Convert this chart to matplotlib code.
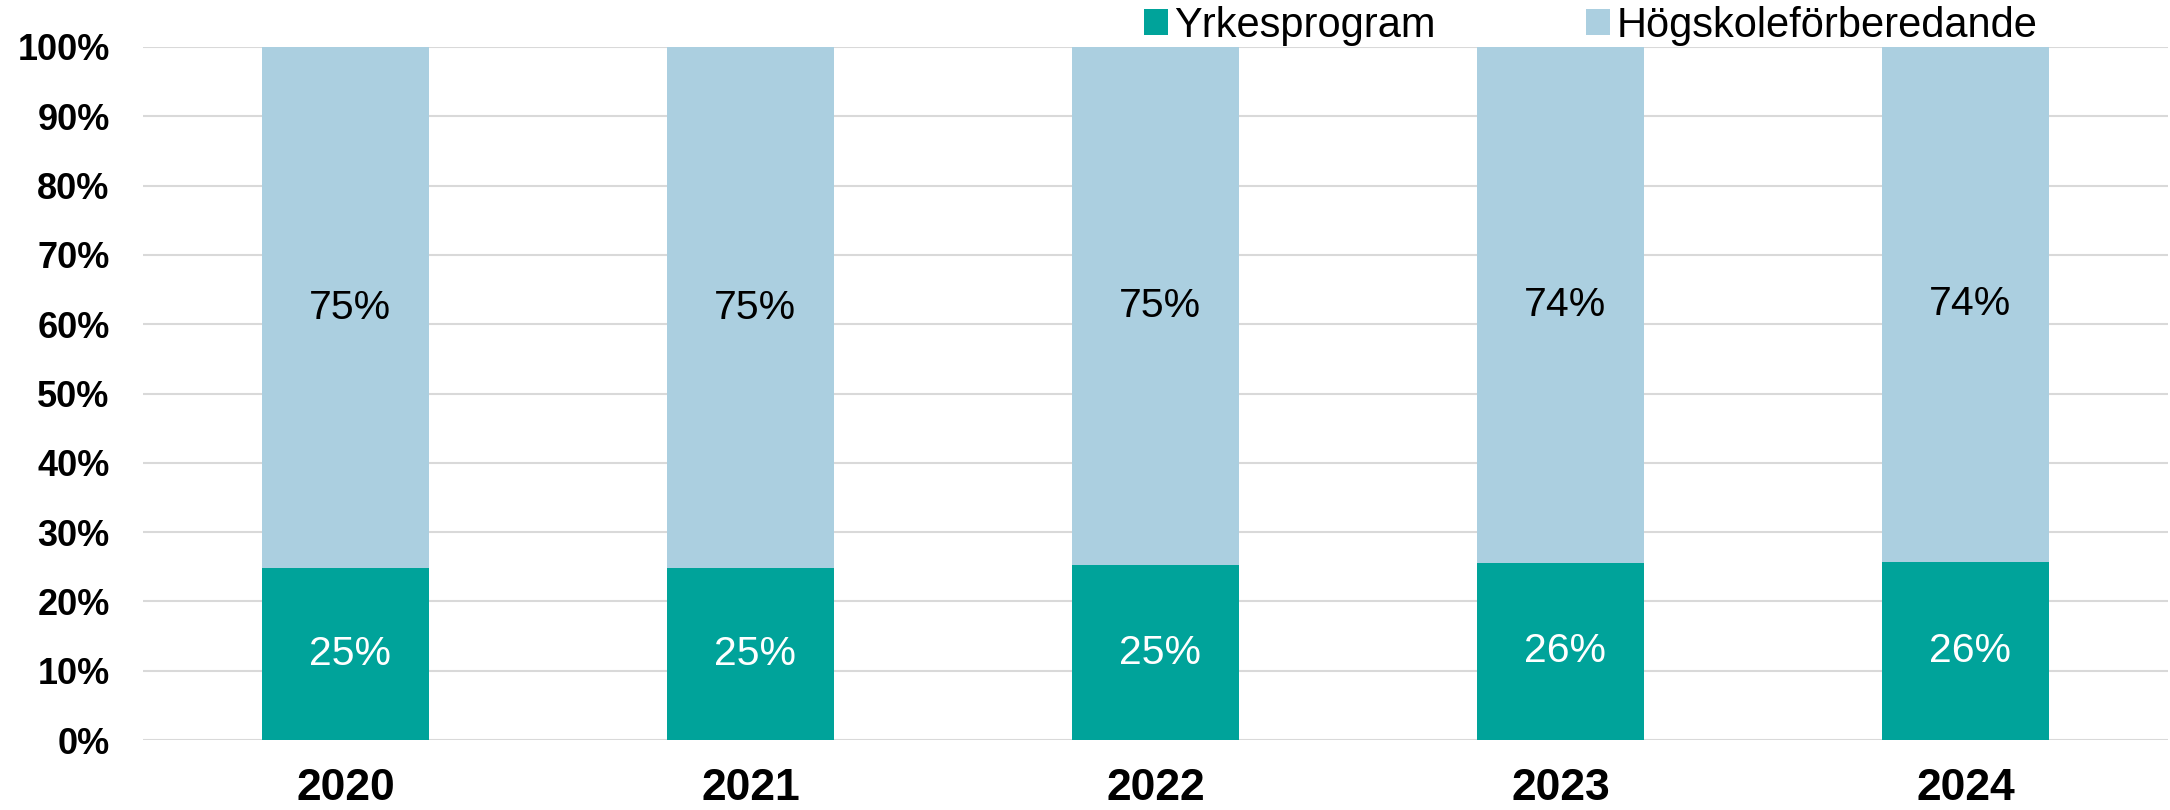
import numpy as np
import matplotlib
matplotlib.use('Agg')
import matplotlib.pyplot as plt

years = ['2020', '2021', '2022', '2023', '2024']
yrkes = [24.8, 24.8, 25.2, 25.55, 25.7]
hogsk = [75.2, 75.2, 74.8, 74.45, 74.3]
series_names = ['Yrkesprogram', 'Högskoleförberedande']

C_YRK = '#00A39A'
C_HOG = '#ABCFE0'
GRID = '#D9D9D9'

plt.rcParams.update({'font.family': 'Liberation Sans'})

fig = plt.figure(figsize=(21.7, 8.1), dpi=100)
ax = fig.add_axes([143/2170, 70/810, 2025/2170, 693/810])

x = np.arange(len(years))
w = 0.41
b1 = ax.bar(x, yrkes, width=w, color=C_YRK, label=series_names[0], zorder=3)
b2 = ax.bar(x, hogsk, width=w, bottom=yrkes, color=C_HOG, label=series_names[1], zorder=3)

# value labels centred in each segment
for xi, v in zip(x, yrkes):
    ax.text(xi + 0.01, v/2, f'{v:.0f}%', ha='center', va='center', color='white', fontsize=29.5, zorder=4)
for xi, b, v in zip(x, yrkes, hogsk):
    ax.text(xi + 0.01, b + v/2, f'{v:.0f}%', ha='center', va='center', color='black', fontsize=29.5, zorder=4)

ax.set_xlim(-0.5, len(years) - 0.5)
ax.set_ylim(0, 100)
ax.set_yticks(np.arange(0, 101, 10))
ax.set_yticklabels([f'{t}%' for t in range(0, 101, 10)], fontsize=26, fontweight='bold')
ax.set_xticks(x)
ax.set_xticklabels(years, fontsize=32, fontweight='bold')
ax.tick_params(axis='y', length=0, pad=24)
ax.tick_params(axis='x', length=0, pad=20)
ax.yaxis.grid(True, color=GRID, lw=1.5, zorder=0)
ax.set_axisbelow(True)
for s in ax.spines.values():
    s.set_visible(False)

fig.legend(handles=[b1, b2], labels=series_names, loc='center', bbox_to_anchor=(0.733, 0.968),
           ncol=2, frameon=False, fontsize=30, handlelength=0.58, handleheight=0.58,
           handletextpad=0.15, columnspacing=3.6, borderpad=0)

fig.savefig('out.png', dpi=100, facecolor='white')
